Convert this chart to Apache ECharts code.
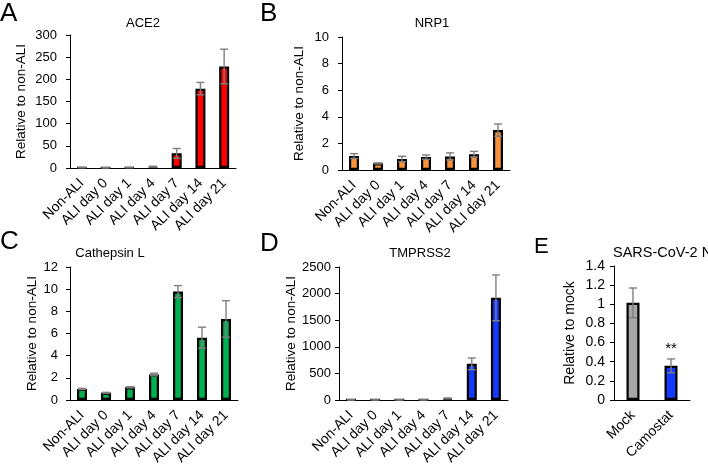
<!DOCTYPE html>
<html>
<head>
<meta charset="utf-8">
<script src="https://cdn.jsdelivr.net/npm/echarts@6/dist/echarts.min.js"></script>
<style>
html,body{margin:0;padding:0;background:#fff;}
#chart{width:708px;height:464px;}
</style>
</head>
<body>
<div id="chart"></div>
<script>
// ---- data ----
var categories = ['Non-ALI', 'ALI day 0', 'ALI day 1', 'ALI day 4', 'ALI day 7', 'ALI day 14', 'ALI day 21'];
var ace2Mean = [1, 0.5, 1, 3, 33, 179, 229];
var ace2Err = [0.5, 0.2, 0.3, 1, 11, 14, 39];
var nrp1Mean = [1.05, 0.5, 0.83, 0.97, 1.02, 1.18, 3.0];
var nrp1Err = [0.18, 0.04, 0.2, 0.16, 0.27, 0.22, 0.46];
var ctslMean = [1.0, 0.65, 1.15, 2.3, 9.78, 5.62, 7.31];
var ctslErr = [0.05, 0.04, 0.05, 0.12, 0.54, 0.95, 1.65];
var tmprssMean = [2, 2, 2, 3, 30, 680, 1920];
var tmprssErr = [1, 1, 1, 1, 8, 110, 430];
var eCategories = ['Mock', 'Camostat'];
var eMean = [1.015, 0.357];
var eErr = [0.155, 0.072];
var eSig = ['', '**'];
var ticksA = [0, 300, 50];
var ticksB = [0, 10, 2];
var ticksC = [0, 12, 2];
var ticksD = [0, 2500, 500];
var ticksE = [0, 1.4, 0.2];

var FONT = '"Liberation Sans", Arial, sans-serif';

var panels = [
  {cats: categories, mean: ace2Mean, err: ace2Err, ticks: ticksA, color: '#ff0000', name: 'Relative to non-ALI', gap: 42, grid: {left: 70, top: 35, width: 166, height: 133}, bw: 10, fs: 13, nfs: 13.5, lm: 13},
  {cats: categories, mean: nrp1Mean, err: nrp1Err, ticks: ticksB, color: '#f7923a', name: 'Relative to non-ALI', gap: 36, grid: {left: 342, top: 37, width: 168, height: 133}, bw: 10, fs: 13, nfs: 13.5, lm: 13},
  {cats: categories, mean: ctslMean, err: ctslErr, ticks: ticksC, color: '#00b050', name: 'Relative to non-ALI', gap: 30, grid: {left: 70, top: 267, width: 168, height: 133}, bw: 10, fs: 13, nfs: 13.5, lm: 12},
  {cats: categories, mean: tmprssMean, err: tmprssErr, ticks: ticksD, color: '#1439ff', name: 'Relative to non-ALI', gap: 38, grid: {left: 339, top: 267, width: 169, height: 133}, bw: 10, fs: 13, nfs: 13.5, lm: 8},
  {cats: eCategories, mean: eMean, err: eErr, ticks: ticksE, color: ['#a6a6a6', '#1439ff'], name: 'Relative to mock', gap: 37, grid: {left: 614, top: 266, width: 76, height: 134}, bw: 13, fs: 14, nfs: 14, lm: 9, sig: eSig}
];

var grids = [], xAxes = [], yAxes = [], series = [];
panels.forEach(function (p, i) {
  grids.push(Object.assign({containLabel: false, outerBoundsMode: 'none'}, p.grid));
  xAxes.push({
    type: 'category', gridIndex: i, data: p.cats,
    axisLine: {lineStyle: {color: '#000', width: 1}},
    axisTick: {alignWithLabel: true, length: 3, lineStyle: {color: '#000'}},
    axisLabel: {rotate: 45, interval: 0, color: '#000', fontSize: 14, fontFamily: FONT, margin: 13}
  });
  yAxes.push({
    type: 'value', gridIndex: i, min: p.ticks[0], max: p.ticks[1], interval: p.ticks[2],
    name: p.name, nameLocation: 'middle', nameGap: p.gap,
    nameTextStyle: {color: '#000', fontSize: p.nfs, fontFamily: FONT},
    axisLine: {show: true, lineStyle: {color: '#000', width: 1}},
    axisTick: {show: true, length: 4, lineStyle: {color: '#000'}},
    splitLine: {show: false},
    axisLabel: {color: '#000', fontSize: p.fs, fontFamily: FONT, margin: p.lm,
      formatter: function (v) { return String(v); }}
  });
  var barData = p.mean.map(function (v, k) {
    var item = {value: v, itemStyle: {color: Array.isArray(p.color) ? p.color[k] : p.color}};
    if (p.sig && p.sig[k]) {
      item.label = {show: true, position: 'top', distance: 9, formatter: p.sig[k], color: '#000', fontSize: 15, fontFamily: FONT};
    }
    return item;
  });
  series.push({
    type: 'bar', xAxisIndex: i, yAxisIndex: i, barWidth: p.bw,
    itemStyle: {borderColor: '#000', borderWidth: 2.2},
    data: barData, silent: true, animation: false
  });
  series.push({
    type: 'custom', xAxisIndex: i, yAxisIndex: i, z: 5, animation: false, silent: true,
    data: p.mean.map(function (v, k) { return [k, v, p.err[k]]; }),
    renderItem: function (params, api) {
      var x = api.value(0), m = api.value(1), e = api.value(2);
      var top = api.coord([x, m + e]);
      var bot = api.coord([x, m - e]);
      var hw = 4;
      var st = {stroke: '#7f7f7f', lineWidth: 1.4};
      return {type: 'group', children: [
        {type: 'line', shape: {x1: top[0], y1: top[1], x2: bot[0], y2: bot[1]}, style: st},
        {type: 'line', shape: {x1: top[0] - hw, y1: top[1], x2: top[0] + hw, y2: top[1]}, style: st},
        {type: 'line', shape: {x1: bot[0] - hw, y1: bot[1], x2: bot[0] + hw, y2: bot[1]}, style: st}
      ]};
    }
  });
});

var titleDefs = [
  {text: 'ACE2', x: 143, y: 23, fs: 13},
  {text: 'NRP1', x: 432, y: 23, fs: 13},
  {text: 'Cathepsin L', x: 110, y: 253, fs: 13},
  {text: 'TMPRSS2', x: 420, y: 253, fs: 13},
  {text: 'SARS-CoV-2 N', x: 613, y: 253, fs: 14.5, left: true}
];
var letters = [
  {text: 'A', x: 0, y: 1}, {text: 'B', x: 260, y: 1}, {text: 'C', x: 0, y: 229},
  {text: 'D', x: 260, y: 231}, {text: 'E', x: 534, y: 236, fs: 22}
];
var graphics = [];
titleDefs.forEach(function (t) {
  graphics.push({type: 'text', x: t.x, y: t.y, style: {text: t.text, fill: '#000', font: t.fs + 'px ' + FONT, textAlign: t.left ? 'left' : 'center', textVerticalAlign: 'middle'}});
});
letters.forEach(function (t) {
  graphics.push({type: 'text', x: t.x, y: t.y, style: {text: t.text, fill: '#000', font: (t.fs || 26) + 'px ' + FONT, textAlign: 'left', textVerticalAlign: 'top'}});
});

var chart = echarts.init(document.getElementById('chart'), null, {renderer: 'canvas'});
chart.setOption({
  animation: false,
  backgroundColor: '#fff',
  grid: grids, xAxis: xAxes, yAxis: yAxes, series: series,
  graphic: graphics
});
</script>
</body>
</html>
